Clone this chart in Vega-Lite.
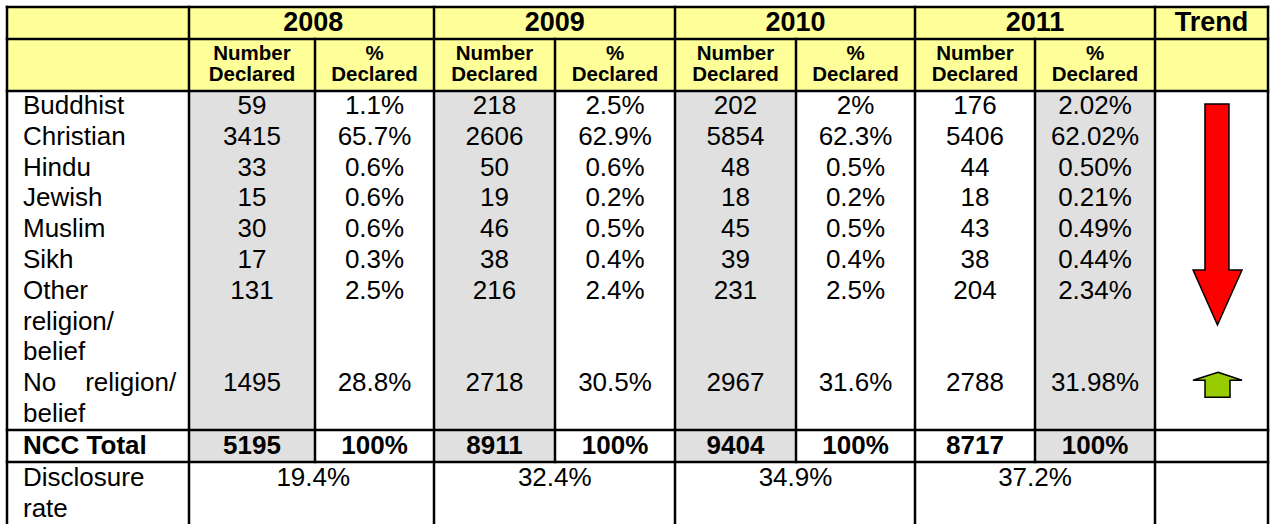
{
  "$schema": "https://vega.github.io/schema/vega-lite/v6.json",
  "width": 1276,
  "height": 524,
  "padding": 0,
  "autosize": {"type": "none"},
  "background": "white",
  "config": {"view": {"stroke": null}},
  "datasets": {
    "fills": [
      {"x0": 0, "x1": 10, "y0": 0, "y1": 2, "part": "header"},
      {"x0": 1, "x1": 2, "y0": 2, "y1": 4, "part": "shade"},
      {"x0": 3, "x1": 4, "y0": 2, "y1": 4, "part": "shade"},
      {"x0": 5, "x1": 6, "y0": 2, "y1": 4, "part": "shade"},
      {"x0": 8, "x1": 9, "y0": 2, "y1": 4, "part": "shade"}
    ],
    "grid": [
      {"x0": 0, "x1": 0, "y0": 0, "y1": 5},
      {"x0": 1, "x1": 1, "y0": 0, "y1": 5},
      {"x0": 2, "x1": 2, "y0": 1, "y1": 4},
      {"x0": 3, "x1": 3, "y0": 0, "y1": 5},
      {"x0": 4, "x1": 4, "y0": 1, "y1": 4},
      {"x0": 5, "x1": 5, "y0": 0, "y1": 5},
      {"x0": 6, "x1": 6, "y0": 1, "y1": 4},
      {"x0": 7, "x1": 7, "y0": 0, "y1": 5},
      {"x0": 8, "x1": 8, "y0": 1, "y1": 4},
      {"x0": 9, "x1": 9, "y0": 0, "y1": 5},
      {"x0": 10, "x1": 10, "y0": 0, "y1": 5},
      {"x0": 0, "x1": 10, "y0": 0, "y1": 0},
      {"x0": 0, "x1": 10, "y0": 1, "y1": 1},
      {"x0": 0, "x1": 10, "y0": 2, "y1": 2},
      {"x0": 0, "x1": 10, "y0": 3, "y1": 3},
      {"x0": 0, "x1": 10, "y0": 4, "y1": 4}
    ],
    "trend": [
      {"c": 9, "r": 6.5, "dir": "down"},
      {"c": 9, "r": 12, "dir": "up"}
    ],
    "cells": [
      {"r": 0, "c": 1.5, "t": "2008"}, {"r": 0, "c": 3.5, "t": "2009"}, {"r": 0, "c": 5.5, "t": "2010"}, {"r": 0, "c": 7.5, "t": "2011"}, {"r": 0, "c": 9, "t": "Trend"},
      {"r": 1, "c": 1, "t": "Number"}, {"r": 1, "c": 2, "t": "%"}, {"r": 1, "c": 3, "t": "Number"}, {"r": 1, "c": 4, "t": "%"},
      {"r": 1, "c": 5, "t": "Number"}, {"r": 1, "c": 6, "t": "%"}, {"r": 1, "c": 7, "t": "Number"}, {"r": 1, "c": 8, "t": "%"},
      {"r": 2, "c": 1, "t": "Declared"}, {"r": 2, "c": 2, "t": "Declared"}, {"r": 2, "c": 3, "t": "Declared"}, {"r": 2, "c": 4, "t": "Declared"},
      {"r": 2, "c": 5, "t": "Declared"}, {"r": 2, "c": 6, "t": "Declared"}, {"r": 2, "c": 7, "t": "Declared"}, {"r": 2, "c": 8, "t": "Declared"},
      {"r": 3, "c": 0, "t": "Buddhist"}, {"r": 4, "c": 0, "t": "Christian"}, {"r": 5, "c": 0, "t": "Hindu"}, {"r": 6, "c": 0, "t": "Jewish"},
      {"r": 7, "c": 0, "t": "Muslim"}, {"r": 8, "c": 0, "t": "Sikh"}, {"r": 9, "c": 0, "t": "Other"}, {"r": 10, "c": 0, "t": "religion/"},
      {"r": 11, "c": 0, "t": "belief"}, {"r": 12, "c": 0, "t": "No\u00a0\u00a0\u00a0\u00a0religion/"}, {"r": 13, "c": 0, "t": "belief"},
      {"r": 14, "c": 0, "t": "NCC Total"}, {"r": 15, "c": 0, "t": "Disclosure"}, {"r": 16, "c": 0, "t": "rate"},
      {"r": 3, "c": 1, "t": "59"}, {"r": 3, "c": 2, "t": "1.1%"}, {"r": 3, "c": 3, "t": "218"}, {"r": 3, "c": 4, "t": "2.5%"},
      {"r": 3, "c": 5, "t": "202"}, {"r": 3, "c": 6, "t": "2%"}, {"r": 3, "c": 7, "t": "176"}, {"r": 3, "c": 8, "t": "2.02%"},
      {"r": 4, "c": 1, "t": "3415"}, {"r": 4, "c": 2, "t": "65.7%"}, {"r": 4, "c": 3, "t": "2606"}, {"r": 4, "c": 4, "t": "62.9%"},
      {"r": 4, "c": 5, "t": "5854"}, {"r": 4, "c": 6, "t": "62.3%"}, {"r": 4, "c": 7, "t": "5406"}, {"r": 4, "c": 8, "t": "62.02%"},
      {"r": 5, "c": 1, "t": "33"}, {"r": 5, "c": 2, "t": "0.6%"}, {"r": 5, "c": 3, "t": "50"}, {"r": 5, "c": 4, "t": "0.6%"},
      {"r": 5, "c": 5, "t": "48"}, {"r": 5, "c": 6, "t": "0.5%"}, {"r": 5, "c": 7, "t": "44"}, {"r": 5, "c": 8, "t": "0.50%"},
      {"r": 6, "c": 1, "t": "15"}, {"r": 6, "c": 2, "t": "0.6%"}, {"r": 6, "c": 3, "t": "19"}, {"r": 6, "c": 4, "t": "0.2%"},
      {"r": 6, "c": 5, "t": "18"}, {"r": 6, "c": 6, "t": "0.2%"}, {"r": 6, "c": 7, "t": "18"}, {"r": 6, "c": 8, "t": "0.21%"},
      {"r": 7, "c": 1, "t": "30"}, {"r": 7, "c": 2, "t": "0.6%"}, {"r": 7, "c": 3, "t": "46"}, {"r": 7, "c": 4, "t": "0.5%"},
      {"r": 7, "c": 5, "t": "45"}, {"r": 7, "c": 6, "t": "0.5%"}, {"r": 7, "c": 7, "t": "43"}, {"r": 7, "c": 8, "t": "0.49%"},
      {"r": 8, "c": 1, "t": "17"}, {"r": 8, "c": 2, "t": "0.3%"}, {"r": 8, "c": 3, "t": "38"}, {"r": 8, "c": 4, "t": "0.4%"},
      {"r": 8, "c": 5, "t": "39"}, {"r": 8, "c": 6, "t": "0.4%"}, {"r": 8, "c": 7, "t": "38"}, {"r": 8, "c": 8, "t": "0.44%"},
      {"r": 9, "c": 1, "t": "131"}, {"r": 9, "c": 2, "t": "2.5%"}, {"r": 9, "c": 3, "t": "216"}, {"r": 9, "c": 4, "t": "2.4%"},
      {"r": 9, "c": 5, "t": "231"}, {"r": 9, "c": 6, "t": "2.5%"}, {"r": 9, "c": 7, "t": "204"}, {"r": 9, "c": 8, "t": "2.34%"},
      {"r": 12, "c": 1, "t": "1495"}, {"r": 12, "c": 2, "t": "28.8%"}, {"r": 12, "c": 3, "t": "2718"}, {"r": 12, "c": 4, "t": "30.5%"},
      {"r": 12, "c": 5, "t": "2967"}, {"r": 12, "c": 6, "t": "31.6%"}, {"r": 12, "c": 7, "t": "2788"}, {"r": 12, "c": 8, "t": "31.98%"},
      {"r": 14, "c": 1, "t": "5195"}, {"r": 14, "c": 2, "t": "100%"}, {"r": 14, "c": 3, "t": "8911"}, {"r": 14, "c": 4, "t": "100%"},
      {"r": 14, "c": 5, "t": "9404"}, {"r": 14, "c": 6, "t": "100%"}, {"r": 14, "c": 7, "t": "8717"}, {"r": 14, "c": 8, "t": "100%"},
      {"r": 15, "c": 1.5, "t": "19.4%"}, {"r": 15, "c": 3.5, "t": "32.4%"}, {"r": 15, "c": 5.5, "t": "34.9%"}, {"r": 15, "c": 7.5, "t": "37.2%"}
    ]
  },
  "layer": [
    {
      "layer": [
        {
          "data": {"name": "fills"},
          "mark": {"type": "rect"},
          "encoding": {
            "x": {"field": "x0", "type": "quantitative", "axis": null, "scale": {"domain": [0, 1, 2, 3, 4, 5, 6, 7, 8, 9, 10], "range": [7, 189, 315, 434, 555, 675, 796, 915, 1035, 1155, 1268], "nice": false, "zero": false}},
            "x2": {"field": "x1"},
            "y": {"field": "y0", "type": "quantitative", "axis": null, "scale": {"domain": [0, 1, 2, 3, 4, 5], "range": [7, 39, 91, 430, 462, 540], "nice": false, "zero": false}},
            "y2": {"field": "y1"},
            "color": {"field": "part", "type": "nominal", "legend": null, "scale": {"domain": ["header", "shade"], "range": ["#ffff99", "#e0e0e0"]}}
          }
        },
        {
          "data": {"name": "grid"},
          "mark": {"type": "rule", "color": "black", "strokeWidth": 2.5, "strokeCap": "square"},
          "encoding": {
            "x": {"field": "x0", "type": "quantitative", "axis": null, "scale": {"domain": [0, 1, 2, 3, 4, 5, 6, 7, 8, 9, 10], "range": [7, 189, 315, 434, 555, 675, 796, 915, 1035, 1155, 1268], "nice": false, "zero": false}},
            "x2": {"field": "x1"},
            "y": {"field": "y0", "type": "quantitative", "axis": null, "scale": {"domain": [0, 1, 2, 3, 4, 5], "range": [7, 39, 91, 430, 462, 540], "nice": false, "zero": false}},
            "y2": {"field": "y1"}
          }
        }
      ]
    },
    {
      "encoding": {
        "x": {"field": "c", "type": "quantitative", "axis": null, "scale": {"domain": [0, 1, 2, 3, 4, 5, 6, 7, 8, 9], "range": [98, 252, 374.5, 494.5, 615, 735.5, 855.5, 975, 1095, 1211.5], "nice": false, "zero": false}},
        "y": {"field": "r", "type": "quantitative", "axis": null, "scale": {"domain": [0, 1, 2, 3, 13, 14, 15, 16], "range": [23, 54, 75, 106, 414, 446, 478, 509], "nice": false, "zero": false}}
      },
      "layer": [
        {
          "data": {"name": "cells"},
          "transform": [{"filter": "datum.r == 0"}],
          "mark": {"type": "text", "font": "Liberation Sans", "fontWeight": "bold", "fontSize": 27, "align": "center", "baseline": "middle", "color": "black"},
          "encoding": {"text": {"field": "t"}}
        },
        {
          "data": {"name": "cells"},
          "transform": [{"filter": "datum.r == 1 || datum.r == 2"}],
          "mark": {"type": "text", "font": "Liberation Sans", "fontWeight": "bold", "fontSize": 20.5, "align": "center", "baseline": "middle", "color": "black"},
          "encoding": {"text": {"field": "t"}}
        },
        {
          "data": {"name": "cells"},
          "transform": [{"filter": "datum.c == 0 && datum.r >= 3 && datum.r != 14"}],
          "mark": {"type": "text", "font": "Liberation Sans", "fontSize": 26, "align": "left", "baseline": "middle", "dx": -75, "color": "black"},
          "encoding": {"text": {"field": "t"}}
        },
        {
          "data": {"name": "cells"},
          "transform": [{"filter": "datum.c == 0 && datum.r == 14"}],
          "mark": {"type": "text", "font": "Liberation Sans", "fontWeight": "bold", "fontSize": 26, "align": "left", "baseline": "middle", "dx": -75, "color": "black"},
          "encoding": {"text": {"field": "t"}}
        },
        {
          "data": {"name": "cells"},
          "transform": [{"filter": "datum.c > 0 && datum.r >= 3 && datum.r != 14"}],
          "mark": {"type": "text", "font": "Liberation Sans", "fontSize": 26, "align": "center", "baseline": "middle", "color": "black"},
          "encoding": {"text": {"field": "t"}}
        },
        {
          "data": {"name": "cells"},
          "transform": [{"filter": "datum.c > 0 && datum.r == 14"}],
          "mark": {"type": "text", "font": "Liberation Sans", "fontWeight": "bold", "fontSize": 26, "align": "center", "baseline": "middle", "color": "black"},
          "encoding": {"text": {"field": "t"}}
        },
        {
          "data": {"name": "trend"},
          "transform": [{"filter": "datum.dir == 'down'"}],
          "mark": {"type": "point", "filled": true, "opacity": 1, "fill": "#ff0000", "stroke": "black", "strokeWidth": 1.5, "size": 48841, "shape": "M-0.059,-0.994L0.158,-0.994L0.158,0.509L0.276,0.509L0.054,1.006L-0.167,0.509L-0.059,0.509Z"}
        },
        {
          "data": {"name": "trend"},
          "transform": [{"filter": "datum.dir == 'up'"}],
          "mark": {"type": "point", "filled": true, "opacity": 1, "fill": "#99cc00", "stroke": "black", "strokeWidth": 1.5, "size": 2500, "shape": "M0.26,-0.44L1.22,-0.12L0.74,-0.12L0.74,0.56L-0.26,0.56L-0.26,-0.12L-0.74,-0.12Z"}
        }
      ]
    }
  ],
  "resolve": {"scale": {"x": "independent", "y": "independent"}}
}
